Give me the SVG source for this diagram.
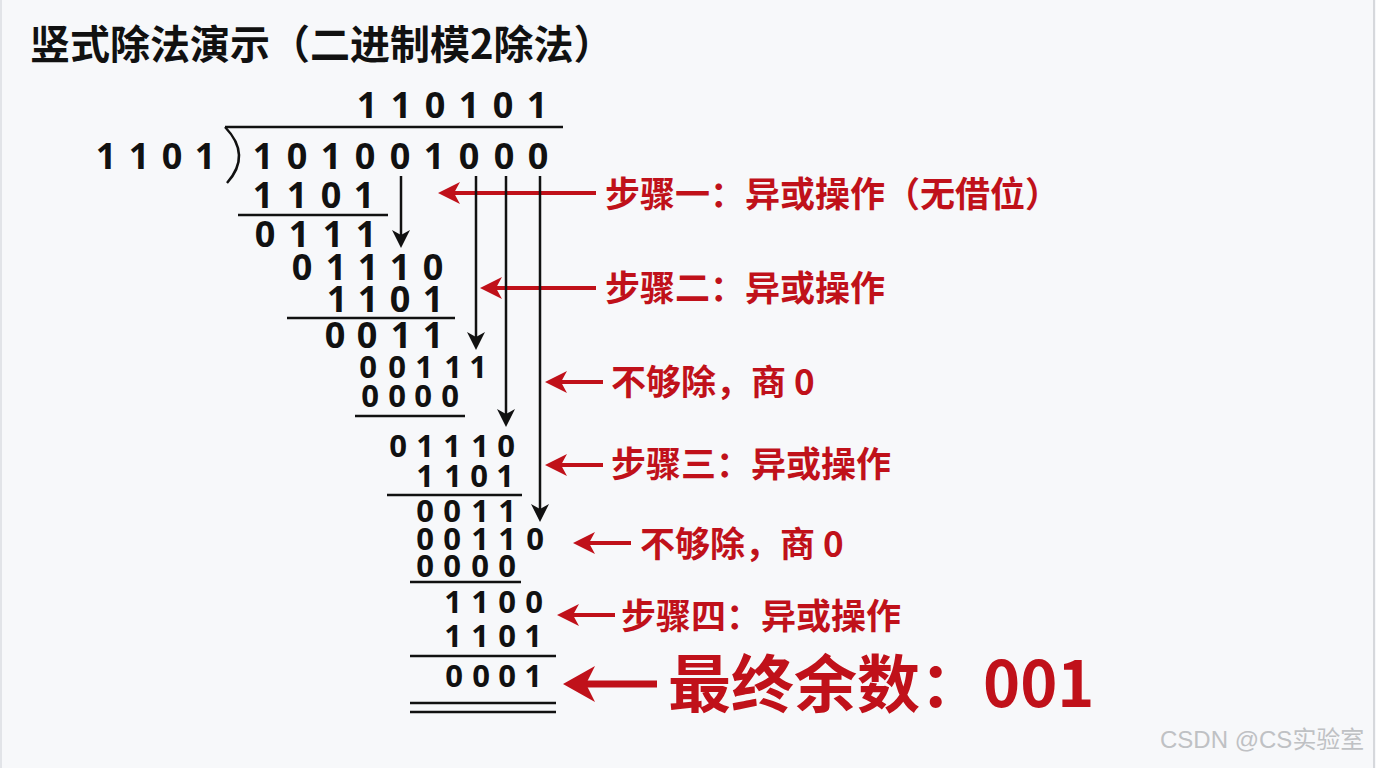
<svg xmlns="http://www.w3.org/2000/svg" width="1376" height="768" viewBox="0 0 1376 768">
<style>
.t{font-family:"Noto Sans CJK SC","Noto Sans",sans-serif;font-weight:700}
.d{font-family:"Open Sans","Noto Sans",sans-serif;font-weight:700;fill:#111;text-anchor:middle}
.big{font-size:36px}
.sm{font-size:31px}
.lbl{font-family:"Noto Sans CJK SC",sans-serif;font-weight:700;font-size:35px;fill:#c0111a}
.rule{stroke:#111;stroke-width:2.5;fill:none}
.blk{stroke:#111;stroke-width:2.5;fill:none}
.red{stroke:#c0111a;stroke-width:4;fill:none}
</style>
<defs>
<marker id="ah" markerUnits="userSpaceOnUse" viewBox="0 0 18 18" refX="10" refY="9" markerWidth="18" markerHeight="18" orient="auto">
<path d="M0,0 L18,9 L0,18 L5,9 Z" fill="#111"/>
</marker>
<marker id="rh" markerUnits="userSpaceOnUse" viewBox="0 0 22 22" refX="12" refY="11" markerWidth="22" markerHeight="22" orient="auto">
<path d="M0,0 L22,11 L0,22 L6,11 Z" fill="#c0111a"/>
</marker>
<marker id="rhb" markerUnits="userSpaceOnUse" viewBox="0 0 32 36" refX="16" refY="18" markerWidth="32" markerHeight="36" orient="auto">
<path d="M0,0 L32,18 L0,36 L9,18 Z" fill="#c0111a"/>
</marker>
</defs>
<rect x="0" y="0" width="1376" height="768" fill="#f7f8fa"/>
<line x1="1374" y1="0" x2="1374" y2="768" stroke="#d6d8dc" stroke-width="2"/>
<line x1="1" y1="0" x2="1" y2="768" stroke="#e2e4e8" stroke-width="2"/>

<g id="title"><text class="t" x="30" y="59" font-size="40" fill="#111">竖式除法演示（二进制模2除法）</text></g>

<g id="labels">
<g id="label-step1"><text class="lbl" x="605" y="207">步骤一：异或操作（无借位）</text></g>
<g id="label-step2"><text class="lbl" x="605" y="301">步骤二：异或操作</text></g>
<g id="label-q0a"><text class="lbl" x="611" y="395">不够除，商 0</text></g>
<g id="label-step3"><text class="lbl" x="611" y="477">步骤三：异或操作</text></g>
<g id="label-q0b"><text class="lbl" x="640" y="557">不够除，商 0</text></g>
<g id="label-step4"><text class="lbl" x="621" y="629">步骤四：异或操作</text></g>
<g id="label-final"><text class="t" x="668" y="707" font-size="63" fill="#c0111a">最终余数：001</text></g>
</g>

<g id="division">
<g id="quotient"><text class="d big" x="367 401 435 469 503 537" y="118">110101</text></g>
<line class="rule" x1="225" y1="127" x2="563" y2="127"/>
<path class="rule" d="M225,127 Q252,155 227,183"/>
<g id="divisor"><text class="d big" x="106 139 172 205" y="169">1101</text></g>
<g id="dividend"><text class="d big" x="263 297 331 365 400 434 469 504 538" y="169">101001000</text></g>
<g id="row3"><text class="d big" x="263 297 331 364" y="208">1101</text></g>
<line class="rule" x1="238" y1="215" x2="388" y2="215"/>
<g id="row4"><text class="d big" x="265 299 333 366" y="247">0111</text></g>
<g id="row5"><text class="d big" x="302 336 368 400 433" y="280">01110</text></g>
<g id="row6"><text class="d big" x="337 368 400 433" y="312">1101</text></g>
<line class="rule" x1="287" y1="318" x2="455" y2="318"/>
<g id="row7"><text class="d big" x="335 367 401 433" y="348">0011</text></g>
<g id="row8"><text class="d sm" x="368 397 424 453 478" y="378">00111</text></g>
<g id="row9"><text class="d sm" x="370 397 423 450" y="407">0000</text></g>
<line class="rule" x1="355" y1="416" x2="465" y2="416"/>
<g id="row10"><text class="d sm" x="398 425 452 480 506" y="457">01110</text></g>
<g id="row11"><text class="d sm" x="425 453 479 505" y="487">1101</text></g>
<line class="rule" x1="387" y1="495" x2="522" y2="495"/>
<g id="row12"><text class="d sm" x="425 452 480 507" y="522">0011</text></g>
<g id="row13"><text class="d sm" x="425 452 480 507 535" y="550">00110</text></g>
<g id="row14"><text class="d sm" x="425 452 480 507" y="577">0000</text></g>
<line class="rule" x1="410" y1="582" x2="521" y2="582"/>
<g id="row15"><text class="d sm" x="453 480 507 534" y="613">1100</text></g>
<g id="row16"><text class="d sm" x="453 480 507 533" y="647">1101</text></g>
<line class="rule" x1="410" y1="656" x2="556" y2="656"/>
<g id="row17"><text class="d sm" x="454 481 507 533" y="687">0001</text></g>
<line class="rule" x1="410" y1="703" x2="556" y2="703"/>
<line class="rule" x1="410" y1="712" x2="556" y2="712"/>
</g>

<g id="connectors">
<path class="red" d="M596,193 L448,193" marker-end="url(#rh)"/>
<path class="red" d="M596,288 L490,288" marker-end="url(#rh)"/>
<path class="red" d="M603,382 L555,382" marker-end="url(#rh)"/>
<path class="red" d="M603,465 L555,465" marker-end="url(#rh)"/>
<path class="red" d="M631,543 L583,543" marker-end="url(#rh)"/>
<path class="red" d="M615,615 L567,615" marker-end="url(#rh)"/>
<path stroke="#c0111a" stroke-width="7" fill="none" d="M657,684 L579,684" marker-end="url(#rhb)"/>
<path class="blk" d="M401,176 L401,240" marker-end="url(#ah)"/>
<path class="blk" d="M476,176 L476,342" marker-end="url(#ah)"/>
<path class="blk" d="M506,176 L506,419" marker-end="url(#ah)"/>
<path class="blk" d="M540,176 L540,514" marker-end="url(#ah)"/>
</g>

<g id="watermark"><text x="1160" y="748" font-family="Liberation Sans,Arial,sans-serif" font-size="24" fill="#bfc1c4">CSDN @CS<tspan font-family="Noto Sans CJK SC,sans-serif">实验室</tspan></text></g>
</svg>
